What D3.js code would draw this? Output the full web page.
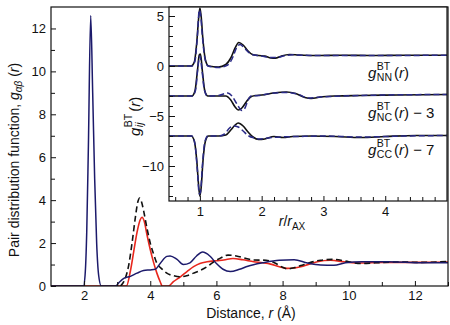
<!DOCTYPE html>
<html><head><meta charset="utf-8">
<script src="https://cdn.jsdelivr.net/npm/d3@7"></script>
<style>
html,body{margin:0;padding:0;background:#fff;}
svg{display:block;font-family:"Liberation Sans",Arial,Helvetica,sans-serif;}
</style></head>
<body>
<svg id="c" width="450" height="325"></svg>
<script>
// ---------- DATA ----------
// Main panel: r (Å), g(r)
const mainXTicks = [2,4,6,8,10,12];
const mainYTicks = [0,2,4,6,8,10,12];
const navySeries = [[1.0,0],[1.98,0],[2.03,0.5],[2.08,2.5],[2.13,6.5],[2.2,12.6],[2.26,9],[2.32,5],[2.38,2],[2.44,0.5],[2.52,0],[2.95,0],[3.05,0.15],[3.2,0.35],[3.4,0.45],[3.6,0.6],[3.8,0.72],[4.0,0.75],[4.15,0.78],[4.3,1.05],[4.5,1.38],[4.6,1.4],[4.8,1.25],[5.0,1.0],[5.2,1.08],[5.4,1.4],[5.58,1.58],[5.8,1.4],[6.0,1.05],[6.2,0.78],[6.42,0.67],[6.7,0.78],[6.95,0.92],[7.4,1.08],[7.9,1.2],[8.35,1.22],[8.75,1.07],[9.15,0.98],[9.55,0.97],[9.9,1.08],[10.4,1.13],[11.2,1.13],[12.2,1.08],[13,1.08]];
const dashedSeries = [[3.1,0],[3.2,0.2],[3.34,0.9],[3.45,2.0],[3.55,3.2],[3.63,3.95],[3.68,4.1],[3.74,3.9],[3.8,3.5],[3.9,2.7],[4.0,2.0],[4.1,1.5],[4.2,1.06],[4.35,0.8],[4.5,0.6],[4.7,0.48],[4.9,0.43],[5.1,0.48],[5.31,0.6],[5.5,0.72],[5.72,0.9],[5.9,1.1],[6.12,1.3],[6.35,1.44],[6.6,1.4],[6.9,1.28],[7.13,1.21],[7.5,1.2],[7.8,1.05],[8.0,0.87],[8.15,0.8],[8.35,0.85],[8.55,0.95],[8.85,1.1],[9.15,1.2],[9.55,1.24],[10.0,1.13],[10.36,1.05],[10.8,1.08],[11.5,1.12],[12.2,1.1],[13,1.15]];
const redSeries = [[1,0],[3.28,0],[3.4,0.7],[3.5,1.6],[3.6,2.5],[3.7,3.1],[3.75,3.2],[3.82,3.0],[3.9,2.4],[4.0,1.7],[4.1,1.1],[4.2,0.6],[4.3,0.2],[4.36,0],[4.55,0],[4.7,0.2],[4.91,0.43],[5.11,0.67],[5.31,0.9],[5.5,1.05],[5.72,1.13],[6.0,1.18],[6.22,1.21],[6.5,1.28],[6.8,1.22],[7.13,1.13],[7.4,1.08],[7.64,1.02],[7.9,0.9],[8.14,0.82],[8.35,0.84],[8.55,0.9],[8.8,1.02],[9.05,1.13],[9.45,1.2],[9.86,1.13],[10.36,1.07],[11,1.1],[12,1.1],[13,1.12]];

// Inset: r/r_AX, Bhatia-Thornton g(r) (raw, offsets applied when drawn)
const insetXTicks = [1,2,3,4];
const insetYTicks = [5,0,-5,-10];
const insetOffsets = [0,-3,-7];
const nnSolid = [[0.5,0],[0.86,0],[0.91,0.4],[0.95,2.4],[0.98,4.8],[1.0,5.8],[1.02,5.0],[1.05,2.6],[1.09,0.6],[1.14,0],[1.3,-0.1],[1.42,0.15],[1.5,0.8],[1.57,1.8],[1.63,2.35],[1.7,2.1],[1.78,1.5],[1.85,1.15],[1.95,1.05],[2.05,1.0],[2.15,0.8],[2.22,0.78],[2.32,1.0],[2.45,1.15],[2.6,1.1],[2.9,1.05],[3.3,1.08],[3.8,1.05],[4.3,1.08],[5,1.08]];
const nnDashed = [[0.5,0],[0.87,0],[0.92,0.5],[0.96,3],[0.99,5.6],[1.01,5.2],[1.04,3],[1.08,0.8],[1.13,0],[1.3,-0.15],[1.45,0.1],[1.52,0.7],[1.6,1.9],[1.65,2.15],[1.72,1.8],[1.8,1.3],[1.88,1.1],[2.0,1.0],[2.15,0.85],[2.25,0.85],[2.35,1.0],[2.5,1.12],[2.8,1.05],[3.3,1.05],[4,1.05],[5,1.08]];
const ncSolid = [[0.5,0],[0.87,0],[0.92,0.5],[0.96,2.5],[0.99,4.1],[1.01,4.2],[1.04,2.5],[1.08,0.5],[1.13,0],[1.3,0],[1.42,0],[1.5,-0.4],[1.57,-1.1],[1.62,-1.4],[1.68,-1.2],[1.75,-0.6],[1.82,-0.1],[1.9,0.05],[2.0,0.1],[2.2,0.3],[2.4,0.4],[2.55,0.25],[2.7,-0.15],[2.8,-0.25],[2.95,-0.1],[3.2,0],[3.6,0.05],[4.2,0.1],[5,0.15]];
const ncDashed = [[0.5,0],[0.88,0],[0.93,0.6],[0.97,3.0],[1.0,4.0],[1.03,2.8],[1.07,0.7],[1.12,0],[1.3,0.05],[1.45,0.3],[1.52,0],[1.6,-0.8],[1.68,-1.45],[1.73,-1.2],[1.78,-0.4],[1.83,0],[1.95,0.05],[2.2,0.3],[2.4,0.35],[2.6,0.15],[2.75,-0.2],[2.95,-0.1],[3.3,0],[4,0.1],[5,0.15]];
const ccSolid = [[0.5,0],[0.86,0],[0.91,-0.5],[0.95,-2.5],[0.98,-5],[1.0,-6],[1.02,-5.2],[1.05,-2.5],[1.09,-0.5],[1.14,0],[1.3,0],[1.42,0.1],[1.5,0.6],[1.57,1.1],[1.62,1.3],[1.7,1.0],[1.78,0.4],[1.86,-0.1],[1.95,-0.35],[2.05,-0.3],[2.2,-0.05],[2.35,-0.15],[2.5,-0.05],[2.8,0],[3.2,-0.05],[3.6,-0.15],[4.0,-0.05],[4.5,0.05],[5,0.05]];
const ccDashed = [[0.5,0],[0.87,0],[0.92,-0.8],[0.96,-3.5],[0.99,-5.8],[1.01,-5.6],[1.04,-3],[1.08,-0.6],[1.13,0],[1.3,0],[1.4,0.2],[1.48,0.8],[1.55,1.0],[1.62,0.9],[1.7,0.5],[1.78,0.05],[1.88,-0.2],[1.97,-0.3],[2.1,-0.2],[2.3,-0.1],[2.6,-0.05],[3.0,0],[3.6,-0.1],[4.3,0],[5,0.05]];

// ---------- DRAW ----------
const NAVY = "#1c1a6b", RED = "#e8261c", INK = "#111";
const svg = d3.select("#c");

const M = {l:51, r:448, t:7, b:286};
const x = d3.scaleLinear([1,13],[M.l,M.r]);
const y = d3.scaleLinear([0,13],[M.b,M.t]);

svg.append("clipPath").attr("id","mclip").append("rect")
  .attr("x",M.l).attr("y",M.t).attr("width",M.r-M.l).attr("height",M.b-M.t);

const line = d3.line().x(d=>x(d[0])).y(d=>y(d[1])).curve(d3.curveMonotoneX);
const mg = svg.append("g").attr("clip-path","url(#mclip)");
mg.append("path").attr("d",line(redSeries)).attr("fill","none").attr("stroke",RED).attr("stroke-width",1.6);
mg.append("path").attr("d",line(dashedSeries)).attr("fill","none").attr("stroke",INK).attr("stroke-width",1.6).attr("stroke-dasharray","6,3.5");
mg.append("path").attr("d",line(navySeries)).attr("fill","none").attr("stroke",NAVY).attr("stroke-width",1.5);

function styleAxis(g){
  g.select(".domain").remove();
  g.selectAll(".tick line").attr("stroke",INK).attr("stroke-width",1);
  g.selectAll(".tick text").attr("fill",INK).style("font-size","13px").style("font-family",'"Liberation Sans",Arial,sans-serif');
}
// main axes
svg.append("g").attr("transform",`translate(0,${M.b})`)
  .call(d3.axisBottom(x).tickValues(mainXTicks).tickSize(-5).tickPadding(5).tickFormat(d3.format("d"))).call(styleAxis);
svg.append("g").attr("transform",`translate(0,${M.b})`)
  .call(d3.axisBottom(x).tickValues([3,5,7,9,11,13]).tickSize(-4).tickFormat("")).call(styleAxis);
svg.append("g").attr("transform",`translate(${M.l},0)`)
  .call(d3.axisLeft(y).tickValues(mainYTicks).tickSize(-5).tickPadding(5).tickFormat(d3.format("d"))).call(styleAxis);
svg.append("g").attr("transform",`translate(${M.l},0)`)
  .call(d3.axisLeft(y).tickValues([1,3,5,7,9,11]).tickSize(-4).tickFormat("")).call(styleAxis);
svg.append("rect").attr("x",M.l).attr("y",M.t).attr("width",M.r-M.l).attr("height",M.b-M.t)
  .attr("fill","none").attr("stroke",INK).attr("stroke-width",1.2);

// main titles
const xt = svg.append("text").attr("x",251).attr("y",318).attr("text-anchor","middle")
  .style("font-size","14px").attr("fill",INK);
xt.append("tspan").text("Distance, ");
xt.append("tspan").style("font-style","italic").text("r");
xt.append("tspan").text(" (Å)");

const yt = svg.append("text").attr("transform","translate(19,160) rotate(-90)").attr("text-anchor","middle")
  .style("font-size","14px").attr("fill",INK);
yt.append("tspan").text("Pair distribution function, ");
yt.append("tspan").style("font-style","italic").text("g");
yt.append("tspan").style("font-style","italic").style("font-size","10px").attr("dy",3).text("αβ");
yt.append("tspan").attr("dy",-3).text(" (");
yt.append("tspan").style("font-style","italic").text("r");
yt.append("tspan").text(")");

// ---------- INSET ----------
const I = {l:169, r:447, t:7, b:201};
const ix = d3.scaleLinear([0.5,5],[I.l,I.r]);
const iy = d3.scaleLinear([-13.5,5.9],[I.b,I.t]);
svg.append("rect").attr("x",I.l).attr("y",I.t).attr("width",I.r-I.l).attr("height",I.b-I.t).attr("fill","#fff");
svg.append("clipPath").attr("id","iclip").append("rect")
  .attr("x",I.l).attr("y",I.t).attr("width",I.r-I.l).attr("height",I.b-I.t);
const ig = svg.append("g").attr("clip-path","url(#iclip)");
const insetPairs = [[nnSolid,nnDashed],[ncSolid,ncDashed],[ccSolid,ccDashed]];
insetPairs.forEach((p,i)=>{
  const off = insetOffsets[i];
  const il = d3.line().x(d=>ix(d[0])).y(d=>iy(d[1]+off)).curve(d3.curveMonotoneX);
  ig.append("path").attr("d",il(p[0])).attr("fill","none").attr("stroke",INK).attr("stroke-width",1.6);
  ig.append("path").attr("d",il(p[1])).attr("fill","none").attr("stroke","#2a2a88").attr("stroke-width",1.5).attr("stroke-dasharray","6,3");
});
const iMinorX = d3.range(0.6,5.0,0.2).filter(v=>Math.abs(v-Math.round(v))>0.05);
svg.append("g").attr("transform",`translate(0,${I.b})`)
  .call(d3.axisBottom(ix).tickValues(insetXTicks).tickSize(-5).tickPadding(6).tickFormat(d3.format("d"))).call(styleAxis);
svg.append("g").attr("transform",`translate(0,${I.b})`)
  .call(d3.axisBottom(ix).tickValues(iMinorX).tickSize(-4).tickFormat("")).call(styleAxis);
const iMinorY = d3.range(-13,6,1).filter(v=>v%5!==0);
svg.append("g").attr("transform",`translate(${I.l},0)`)
  .call(d3.axisLeft(iy).tickValues(insetYTicks).tickSize(-6).tickPadding(5).tickFormat(d=>d<0?"−"+Math.abs(d):d)).call(styleAxis);
svg.append("g").attr("transform",`translate(${I.l},0)`)
  .call(d3.axisLeft(iy).tickValues(iMinorY).tickSize(-4).tickFormat("")).call(styleAxis);
svg.append("rect").attr("x",I.l).attr("y",I.t).attr("width",I.r-I.l).attr("height",I.b-I.t)
  .attr("fill","none").attr("stroke",INK).attr("stroke-width",1.2);

// inset x label r/r_AX
const ixl = svg.append("text").attr("x",292).attr("y",226).attr("text-anchor","middle").style("font-size","14px").attr("fill",INK);
ixl.append("tspan").style("font-style","italic").text("r");
ixl.append("tspan").text("/");
ixl.append("tspan").style("font-style","italic").text("r");
ixl.append("tspan").style("font-size","10px").attr("dy",4).text("AX");

// inset y label g_ij^BT (r)
function gLabel(parent, x0, yb, sub, rest, rotate){
  const g = parent.append("g");
  if(rotate) g.attr("transform",rotate);
  const base = g.append("text").attr("x",x0).attr("y",yb).style("font-size","15px").style("font-style","italic").attr("fill",INK).text("g");
  const w = base.node().getComputedTextLength();
  const sup = g.append("text").attr("x",x0+w+0.5).attr("y",yb-8).style("font-size","10.5px").attr("fill",INK).text("BT");
  const subT = g.append("text").attr("x",x0+w+0.5).attr("y",yb+3).style("font-size","10.5px").attr("fill",INK);
  if(sub.italic) subT.style("font-style","italic");
  subT.text(sub.t);
  const w2 = Math.max(sup.node().getComputedTextLength(), subT.node().getComputedTextLength());
  const r = g.append("text").attr("x",x0+w+0.5+w2+2).attr("y",yb).style("font-size","15px").attr("fill",INK);
  r.append("tspan").text("(");
  r.append("tspan").style("font-style","italic").text("r");
  r.append("tspan").text(")"+rest);
  return g;
}
gLabel(svg, 368, 78, {t:"NN"}, "");
gLabel(svg, 368, 118, {t:"NC"}, " − 3");
gLabel(svg, 368, 155, {t:"CC"}, " − 7");
gLabel(svg, 0, 0, {t:"ij",italic:true}, "", "translate(140,136) rotate(-90)");
</script>
</body></html>
